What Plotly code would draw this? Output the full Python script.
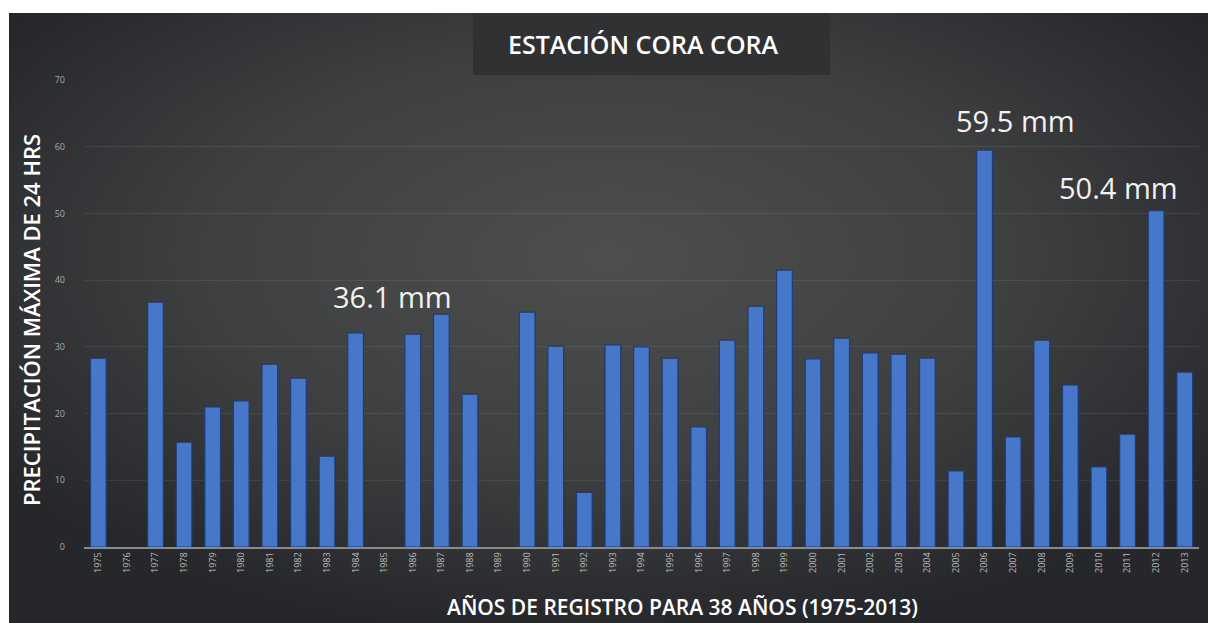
import base64
import plotly.graph_objects as go

# Annual maximum 24-hour rainfall, Cora Cora station (None = no record)
years = [str(y) for y in range(1975, 2014)]
precip_mm = [28.3, None, 36.7, 15.7, 21.0, 21.9, 27.4, 25.3, 13.6, 32.1,
             None, 31.9, 34.9, 22.9, None, 35.2, 30.1, 8.2, 30.3, 30.0,
             28.3, 18.0, 31.0, 36.1, 41.5, 28.2, 31.3, 29.1, 28.9, 28.3,
             11.4, 59.5, 16.5, 31.0, 24.3, 12.0, 16.9, 50.4, 26.2]
y_ticks = [0, 10, 20, 30, 40, 50, 60, 70]

# Highlighted values: (year, value, x offset px, y offset px)
callouts = [("1998", 36.1, -363, -12), ("2006", 59.5, 31, 8), ("2012", 50.4, -38, 2)]

W, H = 1208, 623
ML, MR, MT, MB = 84, 9, 80, 76
PW, PH = W - ML - MR, H - MT - MB


def px_x(px):
    return (px - ML) / PW


def px_y(py):
    return (H - MB - py) / PH


# radial dark-gray backdrop
svg = """<svg xmlns='http://www.w3.org/2000/svg' width='1199' height='610' preserveAspectRatio='none'>
<defs><radialGradient id='g' cx='0.5' cy='0.4' r='0.62'>
<stop offset='0' stop-color='#4d4e4e'/>
<stop offset='0.55' stop-color='#3e3f40'/>
<stop offset='1' stop-color='#26272b'/>
</radialGradient></defs>
<rect width='1199' height='610' fill='url(#g)'/></svg>"""
bg_src = "data:image/svg+xml;base64," + base64.b64encode(svg.encode()).decode()

fig = go.Figure()
fig.add_trace(go.Bar(
    x=years, y=precip_mm,
    marker=dict(color="#4777c9", line=dict(color="#1f3c76", width=1.2)),
    width=0.55,
    hoverinfo="x+y",
))

annotations = []
for yr, val, dx, dy in callouts:
    annotations.append(dict(
        x=years.index(yr), y=val, xref="x", yref="y", text=f"{val} mm", showarrow=False,
        xshift=dx, yshift=dy, yanchor="bottom",
        font=dict(family="Open Sans", size=29, color="#f2f2f2"),
    ))

annotations.append(dict(
    x=px_x(643), y=px_y(44), xref="paper", yref="paper",
    xanchor="center", yanchor="middle",
    text="ESTACIÓN CORA CORA", showarrow=False,
    font=dict(family="Open Sans", size=25, color="#ffffff", weight=600),
))
annotations.append(dict(
    x=px_x(682), y=px_y(607), xref="paper", yref="paper",
    xanchor="center", yanchor="middle",
    text="AÑOS DE REGISTRO PARA 38 AÑOS (1975-2013)", showarrow=False,
    font=dict(family="Open Sans", size=21, color="#ffffff", weight=600),
))
annotations.append(dict(
    x=px_x(31), y=px_y(320), xref="paper", yref="paper",
    xanchor="center", yanchor="middle", textangle=-90,
    text="PRECIPITACIÓN MÁXIMA DE 24 HRS", showarrow=False,
    font=dict(family="Open Sans", size=22, color="#ffffff", weight=600),
))

fig.update_layout(
    width=W, height=H,
    margin=dict(l=ML, r=MR, t=MT, b=MB),
    paper_bgcolor="#ffffff",
    plot_bgcolor="rgba(0,0,0,0)",
    showlegend=False,
    annotations=annotations,
    images=[dict(
        source=bg_src, xref="paper", yref="paper",
        x=px_x(9), y=px_y(13), sizex=(W - 9) / PW, sizey=(H - 13) / PH,
        xanchor="left", yanchor="top", sizing="stretch", layer="below",
    )],
    shapes=[dict(
        type="rect", xref="paper", yref="paper",
        x0=px_x(473), x1=px_x(830), y0=px_y(75), y1=px_y(13),
        fillcolor="#303133", line=dict(width=0), layer="below",
    )],
    xaxis=dict(
        type="category", tickangle=-90, range=[-0.5, len(years) - 0.5],
        tickfont=dict(family="Open Sans", size=9, color="#bdbdbd"),
        showgrid=False, showline=True, linecolor="#8a8a8a", linewidth=1.5,
        ticks="",
    ),
    yaxis=dict(
        range=[0, 70], tickvals=y_ticks,
        tickfont=dict(family="Open Sans", size=9, color="#a8a8a8"),
        showgrid=True, gridcolor="rgba(255,255,255,0.08)", gridwidth=1,
        zeroline=False, ticks="", ticklabelstandoff=18,
    ),
)

fig.write_html("out.html")
